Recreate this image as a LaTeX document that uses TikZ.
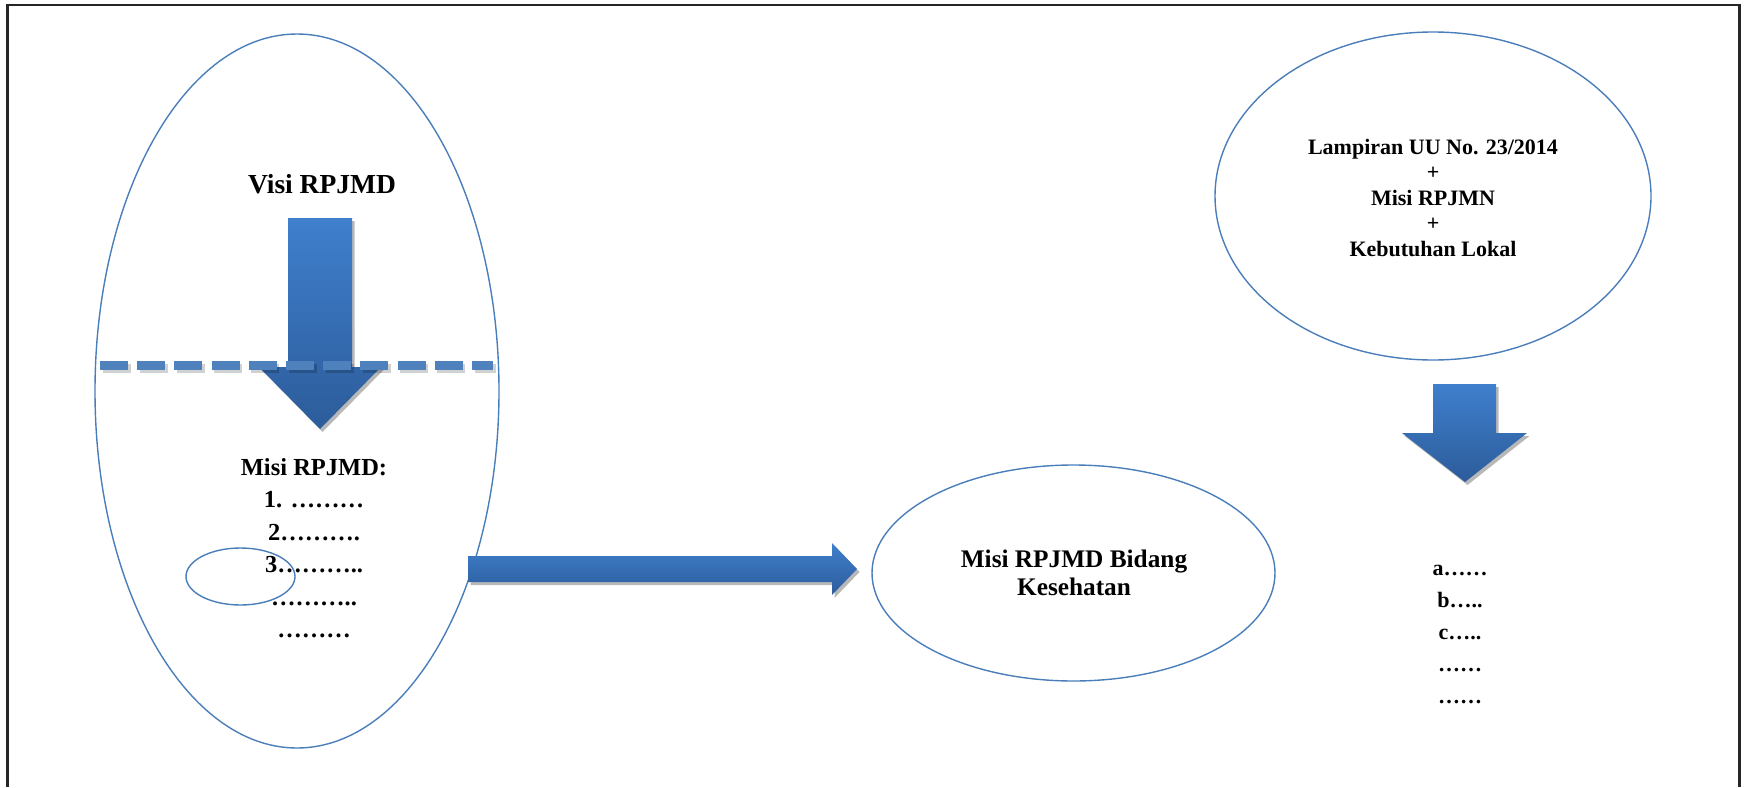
\documentclass[tikz,border=0pt]{standalone}
\usepackage{fontspec}
\setmainfont{Liberation Serif}
\usetikzlibrary{shapes.geometric,shadows}
\definecolor{edgeblue}{HTML}{4A7EBB}
\definecolor{arrtop}{HTML}{3F7FCD}
\definecolor{arrbot}{HTML}{2C5C9A}
\definecolor{dashblue}{HTML}{4F81BD}
\begin{document}
\begin{tikzpicture}[x=1pt,y=-1pt,
  oval/.style={ellipse, draw=edgeblue, line width=1.4pt, inner sep=0pt},
  txt/.style={inner sep=0pt, anchor=base},
  blockarrow/.style={top color=arrtop, bottom color=arrbot, draw=none,
     drop shadow={shadow xshift=2.5pt, shadow yshift=-3pt, opacity=0.28, fill=black}},
  fbig/.style={font=\fontsize{27.5}{33}\selectfont\bfseries},
  flist/.style={font=\fontsize{24.5}{30}\selectfont\bfseries},
  fmid/.style={font=\fontsize{25.3}{30}\selectfont\bfseries},
  ftop/.style={font=\fontsize{22}{26}\selectfont\bfseries},
  fright/.style={font=\fontsize{22}{26}\selectfont\bfseries}]
\useasboundingbox (0,0) rectangle (1745,787);
% frame
\draw[line width=2.2pt, black!85, line join=miter] (7.5,787) -- (7.5,5) -- (1739.5,5) -- (1739.5,787);
% ellipses
\node[oval, minimum width=404pt, minimum height=714pt] (big) at (297,391) {};
\node[oval, minimum width=403pt, minimum height=216pt] (mid) at (1073.5,573) {};
\node[oval, minimum width=436pt, minimum height=328pt] (top) at (1433,196) {};
% left down arrow
\path[blockarrow] (288,218) -- (352,218) -- (352,367) -- (381,367) -- (320,429) -- (259,367) -- (288,367) -- cycle;
% dashed line with shadow
\draw[black, opacity=0.18, line width=9pt, dash pattern=on 28pt off 9.2pt] (102.5,368) -- (495.5,368);
\draw[dashblue, line width=9pt, dash pattern=on 28pt off 9.2pt] (100,365) -- (493,365);
% horizontal arrow
\path[blockarrow] (468,556) -- (832,556) -- (832,543) -- (857,569) -- (832,595) -- (832,582) -- (468,582) -- cycle;
% right down arrow
\path[blockarrow] (1433,384) -- (1496,384) -- (1496,433) -- (1527,433) -- (1465,482) -- (1402,433) -- (1433,433) -- cycle;
% small ellipse
\node[oval, minimum width=109pt, minimum height=57pt] (small) at (240.5,576.5) {};
% texts
\node[txt, fbig] (visi) at (322,193) {Visi RPJMD};
\node[txt, flist] (l0) at (314,475) {Misi RPJMD:};
\node[txt, flist] (l1) at (314,507.5) {1. ………};
\node[txt, flist] (l2) at (314,540) {2……….};
\node[txt, flist] (l3) at (314,572.5) {3………..};
\node[txt, flist] (l4) at (314,605) {………..};
\node[txt, flist] (l5) at (314,637.5) {………};
\node[txt, fmid] (k0) at (1074,567) {Misi RPJMD Bidang};
\node[txt, fmid] (k1) at (1074,595) {Kesehatan};
\node[txt, ftop] (t0) at (1433,154.5) {Lampiran UU No. 23/2014};
\node[txt, ftop] (t1) at (1433,179) {+};
\node[txt, ftop] (t2) at (1433,205.5) {Misi RPJMN};
\node[txt, ftop] (t3) at (1433,230) {+};
\node[txt, ftop] (t4) at (1433,256.5) {Kebutuhan Lokal};
\node[txt, fright] (r0) at (1460,575) {a……};
\node[txt, fright] (r1) at (1460,607) {b…..};
\node[txt, fright] (r2) at (1460,639) {c…..};
\node[txt, fright] (r3) at (1460,671) {……};
\node[txt, fright] (r4) at (1460,703) {……};
\end{tikzpicture}
\end{document}
